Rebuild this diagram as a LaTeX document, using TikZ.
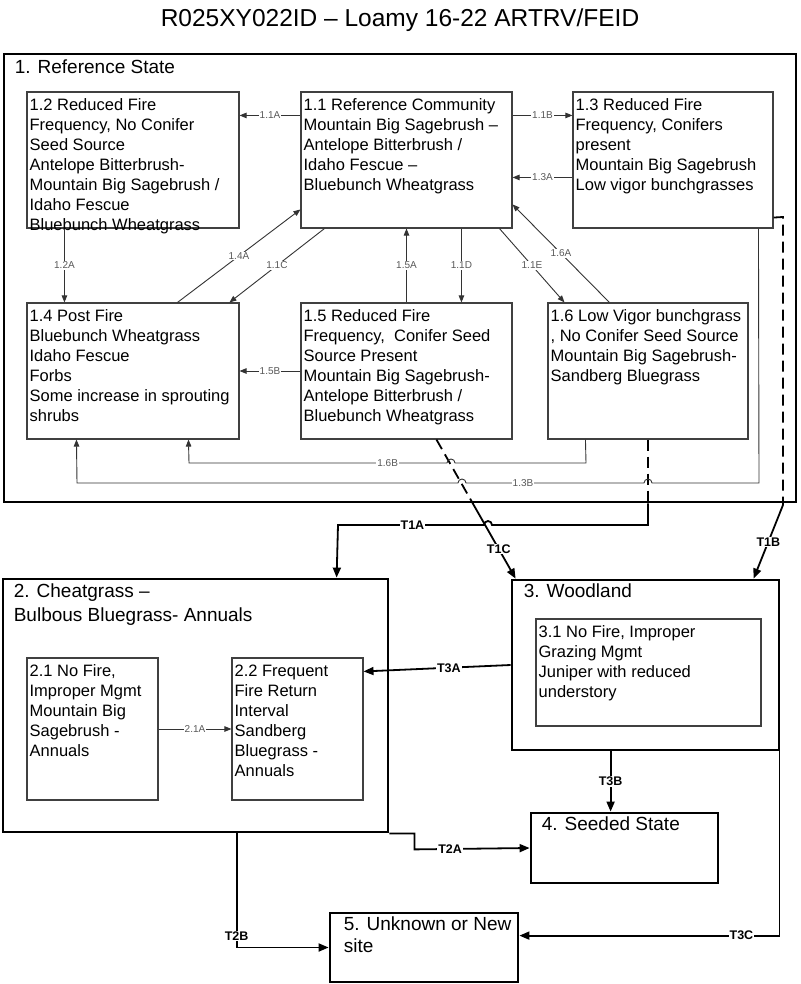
\documentclass[tikz,border=0pt]{standalone}
\usepackage{fontspec}
\setmainfont{Liberation Sans}
\usetikzlibrary{arrows.meta,calc}
\begin{document}
\begin{tikzpicture}[x=1pt,y=-1pt,
  sbox/.style={draw=black,line width=2.8pt,inner sep=0pt,fill=white},
  cbox/.style={draw=black!75,line width=1.1pt,inner sep=0pt,fill=white},
  btxt/.style={anchor=north west,inner sep=0pt,align=left,font=\fontsize{16.5}{20}\selectfont},
  stitle/.style={anchor=base west,inner sep=0pt,font=\fontsize{19}{24}\selectfont},
  conn/.style={draw=black!80,line width=0.9pt,-{Triangle[length=7pt,width=5.5pt]}},
  cline/.style={draw=black!80,line width=0.9pt},
  tline/.style={draw=black,line width=1.8pt},
  ttip/.style={-{Triangle[length=10pt,width=8pt]}},
  dsh/.style={dash pattern=on 11pt off 6pt},
  lbl/.style={fill=white,inner sep=1pt,font=\fontsize{10}{10}\selectfont,text=black!65},
  tlbl/.style={fill=white,inner sep=1pt,font=\bfseries\fontsize{12.5}{12.5}\selectfont}]
\fill[white] (0,0) rectangle (800,984);
\useasboundingbox (0,0) rectangle (800,984);

\node[font=\fontsize{24.5}{28}\selectfont,anchor=base,inner sep=0pt] (title) at (400,27) {R025XY022ID – Loamy 16-22 ARTRV/FEID};

% state boxes
\node[sbox,minimum width=792,minimum height=448] (s1) at (400,278) {};
\node[sbox,minimum width=385,minimum height=253] (s2) at (195.5,705.5) {};
\node[sbox,minimum width=267,minimum height=170] (s3) at (645.5,665) {};
\node[sbox,minimum width=187,minimum height=70] (s4) at (624.5,848) {};
\node[sbox,minimum width=188,minimum height=69] (s5) at (424,947.5) {};

\node[stitle] (s1t) at ($(s1.north west)+(12,21)$) {1. Reference State};
\node[anchor=north west,inner sep=0pt,align=left,font=\fontsize{19}{24}\selectfont] (s2t) at ($(s2.north west)+(12,6)$) {2. Cheatgrass –\\Bulbous Bluegrass- Annuals};
\node[stitle] (s3t) at ($(s3.north west)+(13,19)$) {3. Woodland};
\node[stitle] (s4t) at ($(s4.north west)+(12,19)$) {4. Seeded State};
\node[anchor=north west,inner sep=0pt,align=left,font=\fontsize{19}{22}\selectfont] (s5t) at ($(s5.north west)+(15,5)$) {5. Unknown or New\\site};

% community boxes
\node[cbox,minimum width=212,minimum height=136] (b12) at (133,160) {};
\node[cbox,minimum width=211,minimum height=136] (b11) at (406.5,160) {};
\node[cbox,minimum width=200,minimum height=136] (b13) at (673,160) {};
\node[cbox,minimum width=212,minimum height=136] (b14) at (133,371) {};
\node[cbox,minimum width=211,minimum height=136] (b15) at (406.5,371) {};
\node[cbox,minimum width=200,minimum height=136] (b16) at (648,371) {};
\node[cbox,minimum width=131,minimum height=142] (b21) at (92.5,729) {};
\node[cbox,minimum width=131,minimum height=142] (b22) at (297.5,729) {};
\node[cbox,minimum width=225,minimum height=107] (b31) at (648.5,672.5) {};

\node[btxt] (t12) at ($(b12.north west)+(3,7)$) {1.2 Reduced Fire\\Frequency, No Conifer\\Seed Source\\Antelope Bitterbrush-\\Mountain Big Sagebrush /\\Idaho Fescue\\Bluebunch Wheatgrass};
\node[btxt] (t11) at ($(b11.north west)+(3,7)$) {1.1 Reference Community\\Mountain Big Sagebrush –\\Antelope Bitterbrush /\\Idaho Fescue –\\Bluebunch Wheatgrass};
\node[btxt] (t13) at ($(b13.north west)+(3,7)$) {1.3 Reduced Fire\\Frequency, Conifers\\present\\Mountain Big Sagebrush\\Low vigor bunchgrasses};
\node[btxt] (t14) at ($(b14.north west)+(3,7)$) {1.4 Post Fire\\Bluebunch Wheatgrass\\Idaho Fescue\\Forbs\\Some increase in sprouting\\shrubs};
\node[btxt] (t15) at ($(b15.north west)+(3,7)$) {1.5 Reduced Fire\\Frequency,\ \ Conifer Seed\\Source Present\\Mountain Big Sagebrush-\\Antelope Bitterbrush /\\Bluebunch Wheatgrass};
\node[btxt] (t16) at ($(b16.north west)+(3,7)$) {1.6 Low Vigor bunchgrass\\, No Conifer Seed Source\\Mountain Big Sagebrush-\\Sandberg Bluegrass};
\node[btxt] (t21) at ($(b21.north west)+(3,7)$) {2.1 No Fire,\\Improper Mgmt\\Mountain Big\\Sagebrush -\\Annuals};
\node[btxt] (t22) at ($(b22.north west)+(3,7)$) {2.2 Frequent\\Fire Return\\Interval\\Sandberg\\Bluegrass -\\Annuals};
\node[btxt] (t31) at ($(b31.north west)+(3,7)$) {3.1 No Fire, Improper\\Grazing Mgmt\\Juniper with reduced\\understory};

% connectors inside state 1
\draw[conn] ($(b11.north west)+(0,24)$) -- node[lbl]{1.1A} ($(b12.north east)+(0,24)$);
\draw[conn] ($(b11.north east)+(0,24)$) -- node[lbl]{1.1B} ($(b13.north west)+(0,24)$);
\draw[conn] ($(b13.north west)+(0,86)$) -- node[lbl]{1.3A} ($(b11.north east)+(0,86)$);
\draw[conn] ($(b12.south west)+(38,0)$) -- node[lbl]{1.2A} ($(b14.north west)+(38,0)$);
\draw[conn] ($(b14.north west)+(151,0)$) -- node[lbl]{1.4A} ($(b11.north west)+(0,118)$);
\draw[conn] ($(b11.south west)+(24,0)$) -- node[lbl]{1.1C} ($(b14.north west)+(203,0)$);
\draw[conn] (b15.north) -- node[lbl]{1.5A} (b11.south);
\draw[conn] ($(b11.south west)+(161,0)$) -- node[lbl]{1.1D} ($(b15.north west)+(161,0)$);
\draw[conn] ($(b11.south west)+(199,0)$) -- node[lbl]{1.1E} ($(b16.north west)+(17,0)$);
\draw[conn] ($(b16.north west)+(62,0)$) -- node[lbl]{1.6A} ($(b11.north east)+(0,113)$);
\draw[conn] (b15.west) -- node[lbl]{1.5B} (b14.east);

% transitions: dashed parts
\coordinate (t1cs) at ($(b15.south west)+(136,0)$);
\coordinate (t1ce) at ($(s3.north west)+(5,0)$);
\coordinate (t1cm) at ($(t1cs)!0.447!(t1ce)$);
\draw[tline,dsh] (t1cs) -- (t1cm);
\draw[tline,ttip] (t1cm) -- node[tlbl,pos=0.615]{T1C} (t1ce);

\coordinate (t1am) at (b16.south |- s1.south);
\draw[tline,dsh] (b16.south) -- (t1am);

\coordinate (t1bs) at ($(b13.south east)+(0,-11)$);
\coordinate (t1bm) at (783,505);
\draw[tline,dsh] (t1bs) -- (783,217) -- (t1bm);
\draw[tline,ttip] (t1bm) -- node[tlbl]{T1B} ($(s3.north west)+(243,0)$);

% 1.6B and 1.3B with hops
\draw[conn] ($(b16.south west)+(38,0)$) -- (586,463) -- (455,463) arc[start angle=0,end angle=180,radius=4pt] -- node[lbl,pos=0.23]{1.6B} (189,463) -- ($(b14.south west)+(162,0)$);
\draw[conn] ($(b13.south west)+(186,0)$) -- (759,483) -- (652,483) arc[start angle=0,end angle=180,radius=4pt] -- (466,483) arc[start angle=0,end angle=180,radius=4pt] -- (77,483) -- ($(b14.south west)+(50,0)$);
\node[lbl] (l13b) at (523,483) {1.3B};

% T1A solid part
\draw[tline,ttip] (t1am) -- (648,525) -- (492,525) arc[start angle=0,end angle=180,radius=4pt] -- node[tlbl,pos=0.49]{T1A} (338,525) -- ($(s2.north west)+(335,0)$);

% other transitions
\draw[tline,ttip] (s3.west) -- node[tlbl,pos=0.42]{T3A} ($(b22.north east)+(0,14)$);
\draw[tline,ttip] ($(s3.south west)+(100,0)$) -- node[tlbl]{T3B} ($(s4.north west)+(81,0)$);
\draw[tline,ttip] ($(s3.south east)+(-1,0)$) |- node[tlbl,pos=0.573]{T3C} ($(s5.north east)+(0,24)$);
\draw[tline,ttip] (s2.south east) -- ++(25,0) -- ++(0,16) -- node[tlbl,pos=0.31]{T2A} (s4.west);
\draw[tline,ttip] ($(s2.south west)+(235,0)$) |- node[tlbl,pos=0.45]{T2B} (s5.west);
\draw[conn] (b21.east) -- node[lbl]{2.1A} (b22.west);
\end{tikzpicture}
\end{document}
